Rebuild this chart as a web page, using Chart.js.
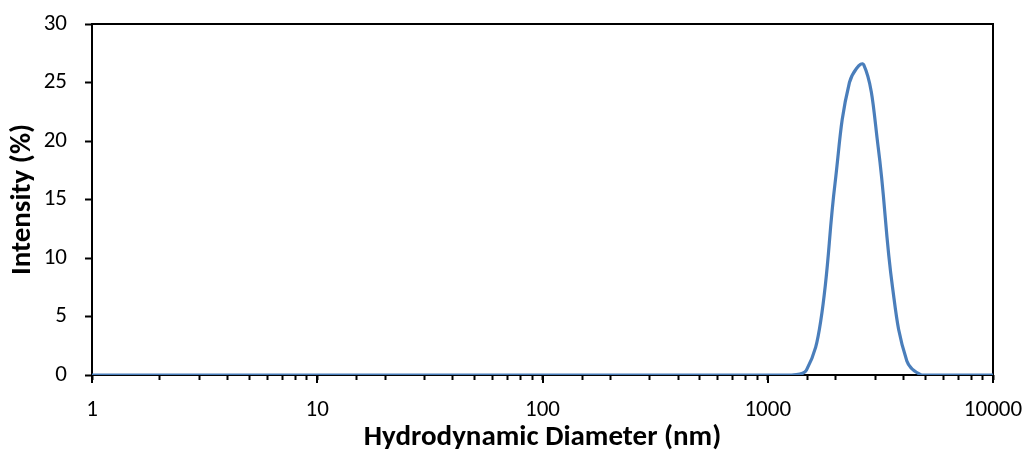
<!DOCTYPE html>
<html>
<head>
<meta charset="utf-8">
<script src="https://cdn.jsdelivr.net/npm/chart.js@4"></script>
<style>
  html, body { margin: 0; padding: 0; background: #fff; }
  #wrap { width: 1028px; height: 452px; }
</style>
</head>
<body>
<div id="wrap"><canvas id="myChart" width="1028" height="452"></canvas></div>
<script>
// size bins (nm) and intensity (%)
const sizes = [0.4, 0.4632, 0.5365, 0.6213, 0.7195, 0.8332, 0.9649, 1.117, 1.294, 1.499,
    1.736, 2.010, 2.328, 2.696, 3.122, 3.615, 4.187, 4.849, 5.615, 6.503,
    7.531, 8.721, 10.10, 11.70, 13.54, 15.69, 18.17, 21.04, 24.36, 28.21,
    32.67, 37.84, 43.82, 50.75, 58.77, 68.06, 78.82, 91.28, 105.7, 122.4,
    141.8, 164.2, 190.1, 220.2, 255.0, 295.3, 342.0, 396.1, 458.7, 531.2,
    615.1, 712.4, 825.0, 955.4, 1106, 1281, 1484, 1718, 1990, 2305,
    2669, 3091, 3580, 4145, 4801, 5560, 6439, 7456, 8635, 10000];
const intensity = [0, 0, 0, 0, 0, 0, 0, 0, 0, 0,
    0, 0, 0, 0, 0, 0, 0, 0, 0, 0,
    0, 0, 0, 0, 0, 0, 0, 0, 0, 0,
    0, 0, 0, 0, 0, 0, 0, 0, 0, 0,
    0, 0, 0, 0, 0, 0, 0, 0, 0, 0,
    0, 0, 0, 0, 0, 0, 0.4, 4.6, 16.4, 25.0,
    26.5, 19.5, 7.5, 1.2, 0, 0, 0, 0, 0, 0];
const xLabels = [1, 10, 100, 1000, 10000];
const yTicks = { min: 0, max: 30, step: 5 };

const xTitle = 'Hydrodynamic Diameter (nm)';
const yTitle = 'Intensity (%)';

const fontFamily = 'Carlito, Lato, "Open Sans", sans-serif';

const points = sizes.map((s, i) => ({ x: s, y: intensity[i] }));

// black box round the plot area, plus the longer ticks at each decade
const frame = {
    id: 'frame',
    beforeDatasetsDraw(chart) {
        const a = chart.chartArea;
        const ctx = chart.ctx;
        const xs = chart.scales.x;
        ctx.save();
        ctx.strokeStyle = '#000';
        ctx.lineWidth = 2;
        ctx.strokeRect(a.left, a.top, a.right - a.left, a.bottom - a.top);
        ctx.beginPath();
        xLabels.forEach(v => {
            const px = Math.round(xs.getPixelForValue(v));
            ctx.moveTo(px, a.bottom);
            ctx.lineTo(px, a.bottom + 8);
        });
        ctx.stroke();
        ctx.restore();
    }
};

const ctx = document.getElementById('myChart').getContext('2d');
const chart = new Chart(ctx, {
    type: 'line',
    data: {
        datasets: [
            {
                data: points,
                borderColor: '#4a7ebb',
                borderWidth: 3.2,
                pointRadius: 0,
                tension: 0.4,
                fill: false
            }
        ]
    },
    options: {
        responsive: false,
        animation: false,
        devicePixelRatio: 1,
        layout: { padding: { top: 24, right: 35, left: 0, bottom: 0 } },
        plugins: { legend: { display: false }, tooltip: { enabled: false } },
        scales: {
            x: {
                type: 'logarithmic',
                min: 1,
                max: 10000,
                afterFit: (scale) => {
                    scale.height = 77;
                    scale.paddingLeft = 0;
                    scale.paddingRight = 0;
                },
                border: { display: false },
                grid: { drawOnChartArea: false, tickLength: 5, tickColor: '#000', tickWidth: 2 },
                ticks: {
                    autoSkip: false,
                    maxRotation: 0,
                    padding: 16,
                    color: '#000',
                    font: { family: fontFamily, size: 23 },
                    callback: (v) => xLabels.includes(v) ? String(v) : ''
                },
                title: {
                    display: true,
                    text: xTitle,
                    color: '#000',
                    padding: { top: 0, bottom: 0 },
                    font: { family: fontFamily, size: 29, weight: 'bold', lineHeight: 1 }
                }
            },
            y: {
                min: yTicks.min,
                max: yTicks.max,
                afterFit: (scale) => {
                    scale.width = 92;
                    scale.paddingTop = 0;
                    scale.paddingBottom = 0;
                },
                border: { display: false },
                grid: { drawOnChartArea: false, tickLength: 7, tickColor: '#000', tickWidth: 2 },
                ticks: {
                    stepSize: yTicks.step,
                    padding: 18,
                    color: '#000',
                    font: { family: fontFamily, size: 23 }
                },
                title: {
                    display: true,
                    text: yTitle,
                    color: '#000',
                    padding: { top: 8, bottom: 0 },
                    font: { family: fontFamily, size: 29, weight: 'bold', lineHeight: 1 }
                }
            }
        }
    },
    plugins: [frame]
});
</script>
</body>
</html>
